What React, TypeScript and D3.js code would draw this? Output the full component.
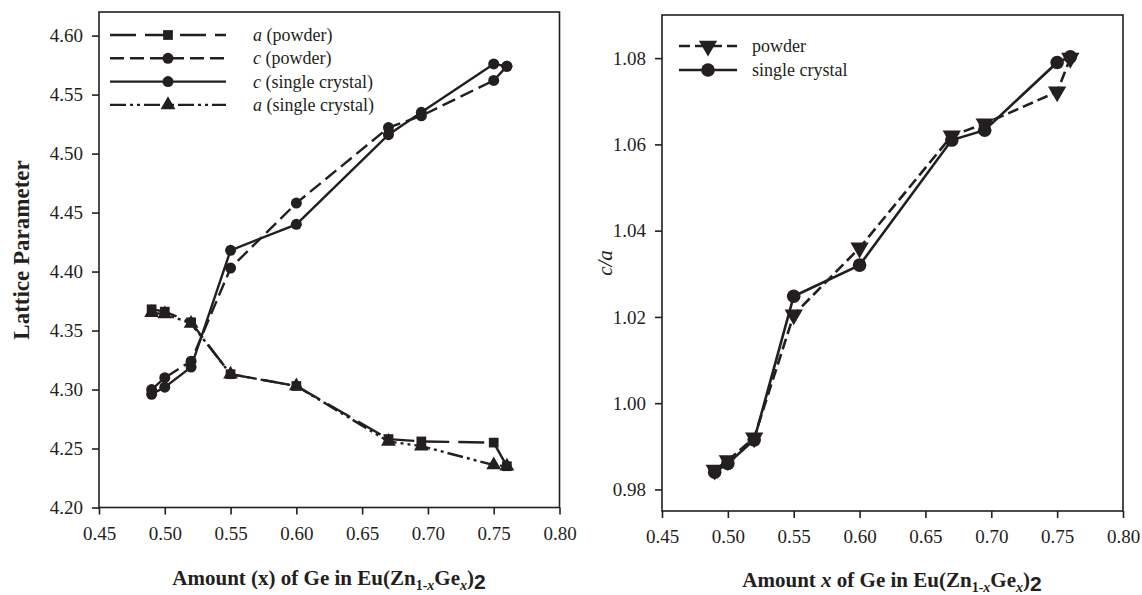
import React, { useEffect, useRef } from 'react';
import * as d3 from 'd3';

// Ge content x in Eu(Zn1-xGex)2
const geAmount = [0.49, 0.5, 0.52, 0.55, 0.6, 0.67, 0.695, 0.75, 0.76];

// left panel: lattice parameters (Å)
const aPowder = [4.368, 4.366, 4.357, 4.313, 4.303, 4.258, 4.256, 4.255, 4.235];
const cPowder = [4.3, 4.31, 4.324, 4.403, 4.458, 4.522, 4.532, 4.562, 4.574];
const cSingle = [4.296, 4.302, 4.319, 4.418, 4.44, 4.516, 4.535, 4.576, 4.574];
const aSingle = [4.365, 4.364, 4.356, 4.313, 4.303, 4.256, 4.252, 4.236, 4.235];

// right panel: c/a ratio
const caPowder = [0.9845, 0.9867, 0.992, 1.0205, 1.036, 1.062, 1.0648, 1.0722, 1.08];
const caSingle = [0.984, 0.986, 0.9915, 1.0248, 1.032, 1.061, 1.0633, 1.079, 1.0803];

const xTicks = [0.45, 0.5, 0.55, 0.6, 0.65, 0.7, 0.75, 0.8];
const latticeTicks = [4.2, 4.25, 4.3, 4.35, 4.4, 4.45, 4.5, 4.55, 4.6];
const ratioTicks = [0.98, 1.0, 1.02, 1.04, 1.06, 1.08];

const FONT = '"Liberation Serif", "Times New Roman", serif';
const INK = '#231f20';

type Series = { label: string; italic: string; values: number[]; dash: string; marker: string };

const leftSeries: Series[] = [
  { label: ' (powder)', italic: 'a', values: aPowder, dash: '26,9', marker: 'square' },
  { label: ' (powder)', italic: 'c', values: cPowder, dash: '14,6', marker: 'circle' },
  { label: ' (single crystal)', italic: 'c', values: cSingle, dash: '', marker: 'circle' },
  { label: ' (single crystal)', italic: 'a', values: aSingle, dash: '16,4,3,4,3,4', marker: 'triangle' },
];

const rightSeries: Series[] = [
  { label: 'powder', italic: '', values: caPowder, dash: '11,5', marker: 'triangleDown' },
  { label: 'single crystal', italic: '', values: caSingle, dash: '', marker: 'circle' },
];

const symbolFor = (m: string) =>
  m === 'square' ? d3.symbolSquare : m === 'circle' ? d3.symbolCircle : d3.symbolTriangle;

function drawMarker(g: any, m: string, x: number, y: number, size: number) {
  g.append('path')
    .attr('d', d3.symbol().type(symbolFor(m)).size(size)())
    .attr('transform', `translate(${x},${y})${m === 'triangleDown' ? ' rotate(180)' : ''}`)
    .attr('fill', INK);
}

function drawPanel(svg: any, opts: any) {
  const { left, right, top, bottom, yDomain, yTicks, yFmt, series, markerSize, lineWidth, legend } = opts;
  const x = d3.scaleLinear().domain([0.45, 0.8]).range([left, right]);
  const y = d3.scaleLinear().domain(yDomain).range([bottom, top]);

  // frame
  svg.append('rect')
    .attr('x', left).attr('y', top)
    .attr('width', right - left).attr('height', bottom - top)
    .attr('fill', 'none').attr('stroke', INK).attr('stroke-width', 1.6);

  const xAxis = svg.append('g')
    .attr('transform', `translate(0,${bottom})`)
    .call(d3.axisBottom(x).tickValues(xTicks).tickFormat(d3.format('.2f')).tickSize(7).tickPadding(12));
  const yAxis = svg.append('g')
    .attr('transform', `translate(${left},0)`)
    .call(d3.axisLeft(y).tickValues(yTicks).tickFormat(d3.format(yFmt)).tickSize(7).tickPadding(9));
  [xAxis, yAxis].forEach((a) => {
    a.attr('font-family', FONT);
    a.select('.domain').remove();
    a.selectAll('line').attr('stroke', INK).attr('stroke-width', 1.6);
    a.selectAll('text').attr('fill', INK).style('font-family', FONT).style('font-size', '19px');
  });

  const line = d3.line<number>()
    .x((_, i) => x(geAmount[i]))
    .y((d) => y(d));

  series.forEach((s: Series) => {
    svg.append('path')
      .datum(s.values)
      .attr('d', line)
      .attr('fill', 'none')
      .attr('stroke', INK)
      .attr('stroke-width', lineWidth)
      .attr('stroke-dasharray', s.dash || null);
    s.values.forEach((v, i) => drawMarker(svg, s.marker, x(geAmount[i]), y(v), markerSize));
  });

  // legend
  series.forEach((s: Series, i: number) => {
    const ly = legend.y + i * legend.step;
    svg.append('line')
      .attr('x1', legend.x1).attr('x2', legend.x2)
      .attr('y1', ly).attr('y2', ly)
      .attr('stroke', INK).attr('stroke-width', lineWidth)
      .attr('stroke-dasharray', s.dash || null);
    drawMarker(svg, s.marker, (legend.x1 + legend.x2) / 2, ly, markerSize);
    const t = svg.append('text')
      .attr('x', legend.tx).attr('y', ly + 6)
      .attr('fill', INK)
      .style('font-family', FONT).style('font-size', '18px');
    if (s.italic) t.append('tspan').style('font-style', 'italic').text(s.italic);
    t.append('tspan').text(s.label);
  });
}

function xTitle(svg: any, cx: number, y: number, italicX: boolean) {
  const t = svg.append('text')
    .attr('x', cx).attr('y', y)
    .attr('text-anchor', 'middle')
    .attr('fill', INK)
    .style('font-family', FONT).style('font-size', '21px').style('font-weight', 'bold');
  if (italicX) {
    t.append('tspan').text('Amount ');
    t.append('tspan').style('font-style', 'italic').text('x');
    t.append('tspan').text(' of Ge in Eu(Zn');
  } else {
    t.append('tspan').text('Amount (x) of Ge in Eu(Zn');
  }
  t.append('tspan').attr('dy', 5).style('font-size', '14px').text('1-');
  t.append('tspan').style('font-size', '14px').style('font-style', 'italic').text('x');
  t.append('tspan').attr('dy', -5).text('Ge');
  t.append('tspan').attr('dy', 5).style('font-size', '14px').style('font-style', 'italic').text('x');
  t.append('tspan').attr('dy', -5).text(')');
  t.append('tspan').attr('dy', 4).style('font-family', '"Liberation Sans", Arial, sans-serif').text('2');
}

export default function App() {
  const ref = useRef<SVGSVGElement>(null);

  useEffect(() => {
    const svg = d3.select(ref.current);
    svg.selectAll('*').remove();

    drawPanel(svg, {
      left: 99, right: 559.5, top: 12, bottom: 507.5,
      yDomain: [4.2, 4.62], yTicks: latticeTicks, yFmt: '.2f',
      series: leftSeries, markerSize: 95, lineWidth: 2.4,
      legend: { x1: 110, x2: 226, y: 35, step: 23.3, tx: 253 },
    });
    drawPanel(svg, {
      left: 662, right: 1123, top: 15, bottom: 511,
      yDomain: [0.975, 1.09], yTicks: ratioTicks, yFmt: '.2f',
      series: rightSeries, markerSize: 145, lineWidth: 2.6,
      legend: { x1: 679, x2: 737, y: 46, step: 24, tx: 752 },
    });

    xTitle(svg, 329, 585, false);
    xTitle(svg, 892, 587, true);

    svg.append('text')
      .attr('transform', 'translate(29,250) rotate(-90)')
      .attr('text-anchor', 'middle')
      .attr('fill', INK)
      .style('font-family', FONT).style('font-size', '23px').style('font-weight', 'bold')
      .text('Lattice Parameter');

    svg.append('text')
      .attr('transform', 'translate(612,263) rotate(-90)')
      .attr('text-anchor', 'middle')
      .attr('fill', INK)
      .style('font-family', FONT).style('font-size', '21px').style('font-style', 'italic')
      .text('c/a');
  }, []);

  return (
    <svg
      ref={ref}
      width={1142}
      height={595}
      style={{ position: 'absolute', left: 0, top: 0, background: '#fff' }}
    />
  );
}
